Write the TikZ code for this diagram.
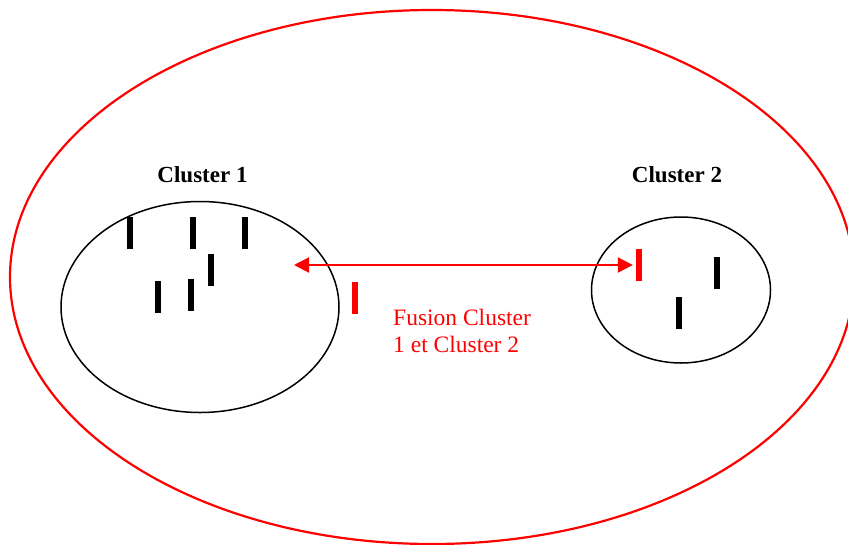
\documentclass[tikz,border=0pt]{standalone}
\usepackage{fontspec}
\setmainfont{Liberation Serif}
\usetikzlibrary{arrows.meta,positioning,shapes.geometric}
\definecolor{fusred}{RGB}{255,0,0}
\tikzset{
  cluster/.style={
    draw,
    ellipse,
    line width=1.5pt,
    inner sep=0pt
  },
  whole/.style={
    draw=fusred,
    ellipse,
    line width=2.2pt,
    inner sep=0pt
  },
  elem/.style={
    rectangle,
    fill=black,
    inner sep=0pt,
    minimum width=6pt,
    minimum height=32pt
  },
  title/.style={
    font=\fontsize{23}{27}\selectfont\bfseries,
    inner sep=0pt,
    anchor=base
  },
  fusion/.style={
    <->,
    >={Triangle[length=15pt,width=15pt]},
    draw=fusred,
    fill=fusred,
    line width=2pt
  }
}

\begin{document}
\begin{tikzpicture}[x=1pt, y=-1pt]
  \useasboundingbox (0,0) rectangle (848,544);
  \clip (0,0) rectangle (848,544);

  % outer set
  \node[whole, minimum width=844pt, minimum height=534pt] (all) at (432,277) {};

  % the two clusters
  \node[cluster, minimum width=278pt, minimum height=211pt] (c1) at (200,307) {};
  \node[cluster, minimum width=179pt, minimum height=146pt] (c2) at (681,290) {};
  \node[title] (t1) at (202.5,182) {Cluster 1};
  \node[title] (t2) at (677,182) {Cluster 2};

  % elements of cluster 1
  \node[elem] (e11) at (129.5,233) {};
  \node[elem] (e12) at (193,233) {};
  \node[elem] (e13) at (245,233) {};
  \node[elem] (e14) at (211,270) {};
  \node[elem] (e15) at (191,295) {};
  \node[elem] (e16) at (158,296.5) {};

  % elements of cluster 2
  \node[elem, fill=fusred] (e21) at (639,265) {};
  \node[elem] (e22) at (717,273) {};
  \node[elem] (e23) at (679,313) {};

  % merged element and fusion
  \node[elem, fill=fusred] (em) at (355,297.5) {};
  \coordinate (fl) at (294,265);
  \draw[fusion] (fl) -- ([xshift=-3pt]e21.west);
  \node[anchor=base west, align=left, inner sep=0pt, text=fusred,
    font=\fontsize{23.5}{27}\selectfont] (lab) at (393,352) {Fusion Cluster\\1 et Cluster 2};
\end{tikzpicture}
\end{document}
